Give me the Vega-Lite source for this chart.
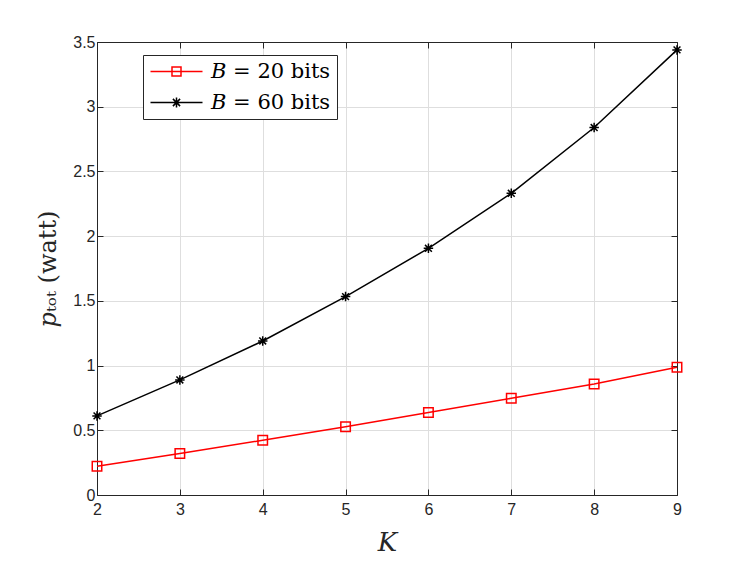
{
  "$schema": "https://vega.github.io/schema/vega-lite/v6.json",
  "width": 580,
  "height": 453,
  "autosize": {"type": "none"},
  "padding": {"left": 97, "top": 42, "right": 70, "bottom": 66},
  "background": "white",
  "config": {
    "view": {"stroke": "#262626", "strokeWidth": 1},
    "axis": {
      "labelFont": "Liberation Sans",
      "labelFontSize": 16,
      "labelColor": "#262626",
      "labelFlush": false,
      "domainColor": "#262626",
      "tickColor": "#262626",
      "gridColor": "#dedede",
      "gridWidth": 1,
      "titleFont": "DejaVu Serif",
      "titleColor": "#262626",
      "titleFontWeight": "normal"
    }
  },
  "data": {
    "values": [
      {"K": 2, "value": 0.222, "series": "B = 20 bits"},
      {"K": 3, "value": 0.320, "series": "B = 20 bits"},
      {"K": 4, "value": 0.423, "series": "B = 20 bits"},
      {"K": 5, "value": 0.528, "series": "B = 20 bits"},
      {"K": 6, "value": 0.637, "series": "B = 20 bits"},
      {"K": 7, "value": 0.747, "series": "B = 20 bits"},
      {"K": 8, "value": 0.858, "series": "B = 20 bits"},
      {"K": 9, "value": 0.987, "series": "B = 20 bits"},
      {"K": 2, "value": 0.611, "series": "B = 60 bits"},
      {"K": 3, "value": 0.889, "series": "B = 60 bits"},
      {"K": 4, "value": 1.190, "series": "B = 60 bits"},
      {"K": 5, "value": 1.533, "series": "B = 60 bits"},
      {"K": 6, "value": 1.906, "series": "B = 60 bits"},
      {"K": 7, "value": 2.331, "series": "B = 60 bits"},
      {"K": 8, "value": 2.839, "series": "B = 60 bits"},
      {"K": 9, "value": 3.439, "series": "B = 60 bits"}
    ]
  },
  "resolve": {
    "scale": {"color": "independent", "shape": "independent"},
    "axis": {"x": "independent", "y": "independent"}
  },
  "layer": [
    {
      "mark": {"type": "line", "strokeWidth": 1.5},
      "encoding": {
        "x": {
          "field": "K", "type": "quantitative",
          "scale": {"domain": [2, 9], "nice": false, "zero": false},
          "axis": {"values": [2, 3, 4, 5, 6, 7, 8, 9], "tickSize": -6, "labelPadding": 12, "title": "K", "titleFontSize": 26, "titleFontStyle": "italic", "titlePadding": 12, "grid": true}
        },
        "y": {
          "field": "value", "type": "quantitative",
          "scale": {"domain": [0, 3.5], "nice": false},
          "axis": {"values": [0, 0.5, 1, 1.5, 2, 2.5, 3, 3.5], "format": "~g", "tickSize": -6, "labelPadding": 8, "title": "𝑝ₜₒₜ  (watt)", "titleFontSize": 24, "titlePadding": 12, "grid": true}
        },
        "color": {
          "field": "series", "type": "nominal",
          "scale": {"domain": ["B = 20 bits", "B = 60 bits"], "range": ["#ff0000", "#000000"]},
          "legend": null
        }
      }
    },
    {
      "mark": {"type": "point", "filled": false, "size": 90, "strokeWidth": 1.5, "opacity": 1},
      "encoding": {
        "x": {"field": "K", "type": "quantitative", "axis": null},
        "y": {"field": "value", "type": "quantitative", "axis": null},
        "color": {
          "field": "series", "type": "nominal",
          "scale": {"domain": ["B = 20 bits", "B = 60 bits"], "range": ["#ff0000", "#000000"]},
          "legend": null
        },
        "shape": {
          "field": "series", "type": "nominal",
          "scale": {"domain": ["B = 20 bits", "B = 60 bits"], "range": ["square", "M0,-1V1M-1,0H1M-0.72,-0.72L0.72,0.72M-0.72,0.72L0.72,-0.72"]},
          "legend": null
        }
      }
    },
    {
      "transform": [{"filter": "datum.K < 0"}],
      "mark": {"type": "point", "filled": false, "size": 100, "strokeWidth": 1.5, "opacity": 1},
      "encoding": {
        "x": {"field": "K", "type": "quantitative", "axis": {"orient": "top", "labels": false, "grid": false, "tickSize": -6, "title": null, "values": [2, 3, 4, 5, 6, 7, 8, 9]}},
        "y": {"field": "value", "type": "quantitative", "axis": {"orient": "right", "labels": false, "grid": false, "tickSize": -6, "title": null, "values": [0, 0.5, 1, 1.5, 2, 2.5, 3, 3.5]}},
        "color": {
          "field": "series", "type": "nominal",
          "scale": {"domain": ["B = 20 bits", "B = 60 bits"], "range": ["#ff0000", "#000000"]},
          "legend": {
            "title": null, "orient": "none", "legendX": 46, "legendY": 13,
            "strokeColor": "#262626", "fillColor": "white", "padding": 6,
            "labelFont": "DejaVu Serif", "labelFontSize": 21, "labelColor": "#000000",
            "labelExpr": "datum.label == 'B = 20 bits' ? '𝐵 = 20 bits' : '𝐵 = 60 bits'",
            "symbolOffset": 17, "labelOffset": 24, "rowPadding": 9, "symbolSize": 100, "symbolStrokeWidth": 1.5
          }
        },
        "shape": {
          "field": "series", "type": "nominal",
          "scale": {"domain": ["B = 20 bits", "B = 60 bits"], "range": ["M-5.2,0H5.2M-0.9,-0.9H0.9V0.9H-0.9Z", "M-5.2,0H5.2M0,-1V1M-0.72,-0.72L0.72,0.72M-0.72,0.72L0.72,-0.72"]}
        }
      }
    }
  ]
}
